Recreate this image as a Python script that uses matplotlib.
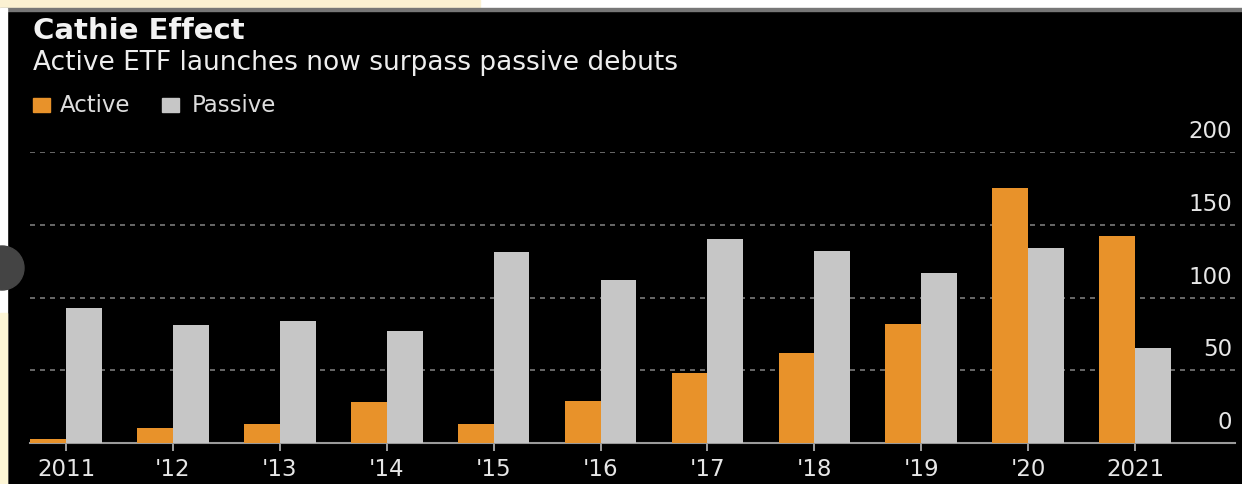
import matplotlib.pyplot as plt
import matplotlib.patches as mpatches
import matplotlib.transforms as mtransforms
import numpy as np

years = ["2011", "'12", "'13", "'14", "'15", "'16", "'17", "'18", "'19", "'20", "2021"]
active = [3, 10, 13, 28, 13, 29, 48, 62, 82, 175, 142]
passive = [93, 81, 84, 77, 131, 112, 140, 132, 117, 134, 65]
yticks = [0, 50, 100, 150, 200]

orange = "#E8922A"
grey = "#C6C6C6"

W, H = 1242, 484
fig = plt.figure(figsize=(W / 100, H / 100), dpi=100, facecolor="black")

# screenshot frame bits around the black chart
fig.patches.append(mpatches.Rectangle((0, 1 - 8 / H), 1, 8 / H, transform=fig.transFigure, color="white", zorder=0))
fig.patches.append(mpatches.Rectangle((0, 1 - 8 / H), 480 / W, 8 / H, transform=fig.transFigure, color="#FBF1D2", zorder=0))
fig.patches.append(mpatches.Rectangle((0, 1 - 11 / H), 1, 3 / H, transform=fig.transFigure, color="#777777", zorder=0))
fig.patches.append(mpatches.Rectangle((0, 0), 7 / W, 1 - 8 / H, transform=fig.transFigure, color="white", zorder=0))
fig.patches.append(mpatches.Rectangle((0, 0), 7 / W, 1 - 313 / H, transform=fig.transFigure, color="#FDF6D6", zorder=0))
fig.patches.append(mpatches.Ellipse((2 / W, 1 - 268 / H), 44 / W, 44 / H, transform=fig.transFigure, color="#444444", zorder=1))

ax = fig.add_axes([30 / W, 1 - 443 / H, 1205 / W, 291 / H])
ax.set_facecolor("black")

x = np.arange(len(years))
bw = 0.335
ax.bar(x - bw / 2, active, bw, color=orange, zorder=3)
ax.bar(x + bw / 2, passive, bw, color=grey, zorder=3)

ax.set_xlim(-0.337, 10.935)
ax.set_ylim(0, 200)
ax.set_xticks(x)
ax.set_xticklabels(years)
ax.tick_params(axis="x", colors="#BBBBBB", length=6, width=1.2, labelsize=16.5, labelcolor="#E6E6E6", pad=5)
ax.set_yticks([])

for s in ["top", "right", "left"]:
    ax.spines[s].set_visible(False)
ax.spines["bottom"].set_color("#9A9A9A")
ax.spines["bottom"].set_linewidth(1.5)

for v in yticks[1:]:
    ax.axhline(v, color="#7A7A7A", lw=1.2, ls=(0, (3, 3)), zorder=1)

off = mtransforms.offset_copy(ax.get_yaxis_transform(), fig=fig, x=-3, y=9, units="dots")
for v in yticks:
    ax.text(1.0, v, str(v), transform=off, ha="right", va="bottom", color="#E6E6E6", fontsize=16.5)

fig.text(33 / W, 1 - 39 / H, "Cathie Effect", color="#F2F2F2", fontsize=21, fontweight="bold", va="baseline")
fig.text(33 / W, 1 - 70 / H, "Active ETF launches now surpass passive debuts", color="#EEEEEE", fontsize=19, va="baseline")

fig.patches.append(mpatches.Rectangle((33 / W, 1 - 112 / H), 17 / W, 14 / H, transform=fig.transFigure, color=orange))
fig.text(60 / W, 1 - 112 / H, "Active", color="#DDDDDD", fontsize=16.5, va="baseline")
fig.patches.append(mpatches.Rectangle((162 / W, 1 - 112 / H), 17 / W, 14 / H, transform=fig.transFigure, color=grey))
fig.text(192 / W, 1 - 112 / H, "Passive", color="#DDDDDD", fontsize=16.5, va="baseline")

fig.savefig("out.png", dpi=100, facecolor="black")
